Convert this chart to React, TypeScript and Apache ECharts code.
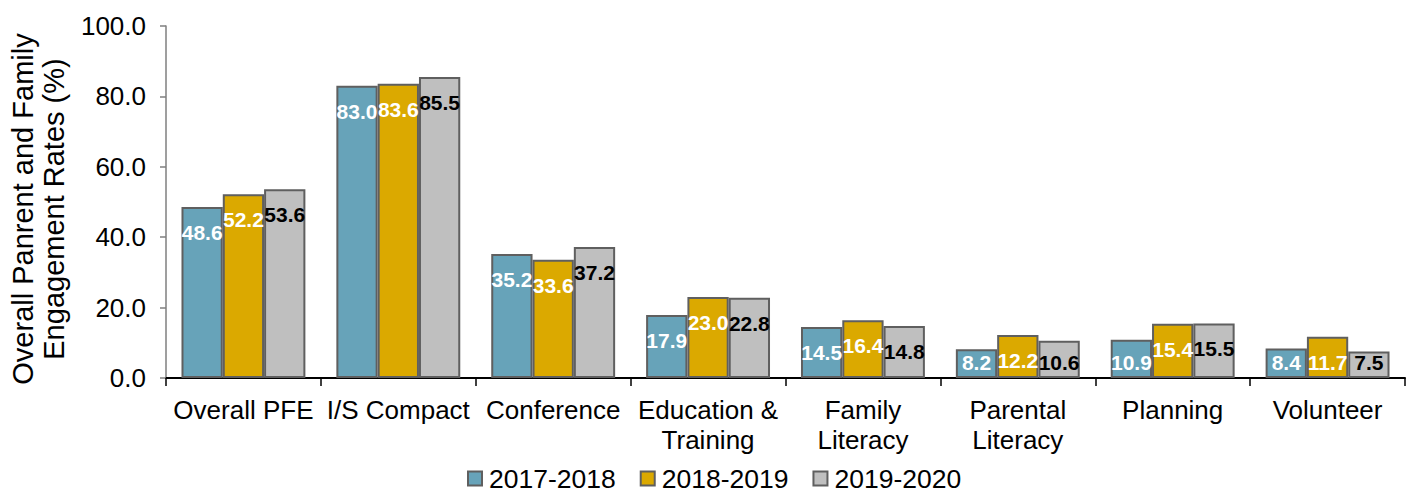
import React, { useEffect, useRef } from "react";
import * as echarts from "echarts";

const categories = [
  "Overall PFE",
  "I/S Compact",
  "Conference",
  "Education &\nTraining",
  "Family\nLiteracy",
  "Parental\nLiteracy",
  "Planning",
  "Volunteer",
];
const seriesNames = ["2017-2018", "2018-2019", "2019-2020"];
const values2017 = [48.6, 83.0, 35.2, 17.9, 14.5, 8.2, 10.9, 8.4];
const values2018 = [52.2, 83.6, 33.6, 23.0, 16.4, 12.2, 15.4, 11.7];
const values2019 = [53.6, 85.5, 37.2, 22.8, 14.8, 10.6, 15.5, 7.5];
const colors = ["#67A3B9", "#DBA900", "#BFBFBF"];
const labelColors = ["#FFFFFF", "#FFFFFF", "#000000"];

const FONT = "Liberation Sans, Arial, sans-serif";
const PLOT_TOP = 26;
const PLOT_BOTTOM = 115;
const H = 493;
const Y_MAX = 100;
const LABEL_SIZE = 21;

export default function App() {
  const ref = useRef<HTMLDivElement>(null);
  useEffect(() => {
    if (!ref.current) return;
    const chart = echarts.init(ref.current, null, { renderer: "svg" });
    const allValues = [values2017, values2018, values2019];
    const pxPerUnit = (H - PLOT_TOP - PLOT_BOTTOM) / Y_MAX;
    const labelDistance = (v: number) =>
      Math.max(0, Math.min(15, v * pxPerUnit - LABEL_SIZE - 5));
    chart.setOption({
      animation: false,
      textStyle: { fontFamily: FONT },
      grid: {
        left: 166,
        right: 4,
        top: PLOT_TOP,
        bottom: PLOT_BOTTOM,
        containLabel: false,
        outerBoundsMode: "none",
      },
      legend: {
        top: 465,
        left: 467,
        padding: 0,
        itemWidth: 14,
        itemHeight: 14,
        itemGap: 24,
        icon: "rect",
        textStyle: {
          fontSize: 26.5,
          lineHeight: 22,
          color: "#000",
          fontFamily: FONT,
          padding: [0, 0, 0, 2],
        },
        data: seriesNames,
      },
      xAxis: {
        type: "category",
        data: categories,
        axisLine: { lineStyle: { color: "#000", width: 2 } },
        axisTick: { show: true, length: 8, lineStyle: { color: "#000", width: 1.5 } },
        axisLabel: {
          fontSize: 26,
          color: "#000",
          margin: 17,
          lineHeight: 30,
          interval: 0,
          fontFamily: FONT,
        },
      },
      yAxis: {
        type: "value",
        min: 0,
        max: Y_MAX,
        interval: 20,
        name: "Overall Panrent and Family\nEngagement Rates (%)",
        nameLocation: "middle",
        nameRotate: 90,
        nameGap: 97,
        nameTextStyle: {
          fontSize: 29,
          color: "#000",
          lineHeight: 31,
          fontFamily: FONT,
          padding: [0, 14, 0, 0],
        },
        axisLine: { show: true, lineStyle: { color: "#7F7F7F", width: 1.5 } },
        axisTick: { show: true, length: 6, lineStyle: { color: "#7F7F7F", width: 1.5 } },
        splitLine: { show: false },
        axisLabel: {
          fontSize: 26,
          color: "#000",
          margin: 20,
          fontFamily: FONT,
          formatter: (v: number) => v.toFixed(1),
        },
      },
      series: seriesNames.map((name, i) => ({
        name,
        type: "bar",
        data: allValues[i].map((v) => ({
          value: v,
          label: { distance: labelDistance(v) },
        })),
        barGap: "0%",
        barCategoryGap: "20%",
        itemStyle: { color: colors[i], borderColor: "#5F5F5F", borderWidth: 2 },
        label: {
          show: true,
          position: "insideTop",
          color: labelColors[i],
          fontWeight: "bold",
          fontSize: LABEL_SIZE,
          fontFamily: FONT,
          formatter: (p: any) => Number(p.value).toFixed(1),
        },
      })),
    });
    return () => chart.dispose();
  }, []);
  return (
    <div
      ref={ref}
      style={{ position: "fixed", left: 0, top: 0, width: 1409, height: 493, background: "#fff" }}
    />
  );
}
